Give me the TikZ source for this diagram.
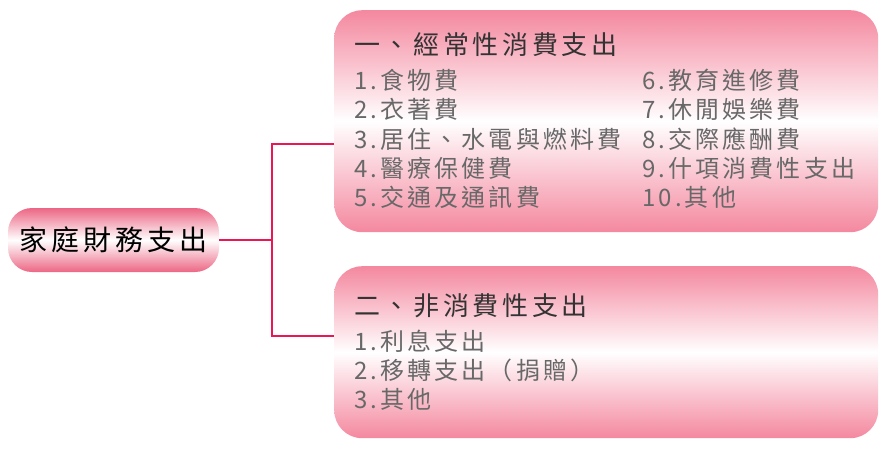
\documentclass[tikz,border=0pt]{standalone}
\usepackage{fontspec}
\newfontfamily\cjkroot[LetterSpace=15]{Noto Sans CJK TC}
\newfontfamily\cjktitle[LetterSpace=14]{Noto Sans CJK TC}
\newfontfamily\cjkitem[LetterSpace=13]{Noto Sans CJK TC}
\definecolor{boxpink}{HTML}{F4889F}
\definecolor{rootpink}{HTML}{EC6684}
\definecolor{conn}{HTML}{EA1656}
\definecolor{titlecol}{HTML}{333333}
\definecolor{itemcol}{HTML}{686868}
\begin{document}
\begin{tikzpicture}[x=1pt,y=-1pt,
  box/.style={rounded corners=28pt, top color=boxpink, bottom color=boxpink, middle color=white, draw=none, inner sep=0pt, anchor=north west, minimum width=544pt},
  rootbox/.style={rounded corners=24pt, top color=rootpink, bottom color=rootpink, middle color=white, draw=none, inner sep=0pt, minimum width=211pt, minimum height=64pt, font=\cjkroot\fontsize{28}{30}\selectfont, text=black},
  ttl/.style={anchor=west, inner sep=0pt, font=\cjktitle\fontsize{26}{28}\selectfont, text=titlecol},
  itm/.style={anchor=west, inner sep=0pt, font=\cjkitem\fontsize{24}{26}\selectfont, text=itemcol},
  connline/.style={draw=conn, line width=2.6pt}
]
\useasboundingbox (0,0) rectangle (883,448);
\node[box, minimum height=222pt] (top) at (334,10) {};
\node[box, minimum height=172pt] (bot) at (334,266) {};
\node[rootbox] (root) at (113.5,240) {家庭財務支出};

\coordinate (j) at (272,240);
\coordinate (ta) at (334,144);
\coordinate (ba) at (334,336);
\draw[connline] (root.east) -- (j);
\draw[connline] (ta) -| (j) |- (ba);

\node[ttl] (t1) at (354,45) {一、經常性消費支出};
\node[itm] (a1) at (354,80) {1.食物費};
\node[itm] (a2) at (354,109) {2.衣著費};
\node[itm] (a3) at (354,139) {3.居住、水電與燃料費};
\node[itm] (a4) at (354,168) {4.醫療保健費};
\node[itm] (a5) at (354,197) {5.交通及通訊費};
\node[itm] (a6) at (642,80) {6.教育進修費};
\node[itm] (a7) at (642,109) {7.休閒娛樂費};
\node[itm] (a8) at (642,139) {8.交際應酬費};
\node[itm] (a9) at (642,168) {9.什項消費性支出};
\node[itm] (a10) at (642,197) {10.其他};

\node[ttl] (t2) at (354,306) {二、非消費性支出};
\node[itm] (b1) at (354,341) {1.利息支出};
\node[itm] (b2) at (354,370) {2.移轉支出（捐贈）};
\node[itm] (b3) at (354,399) {3.其他};
\end{tikzpicture}
\end{document}
